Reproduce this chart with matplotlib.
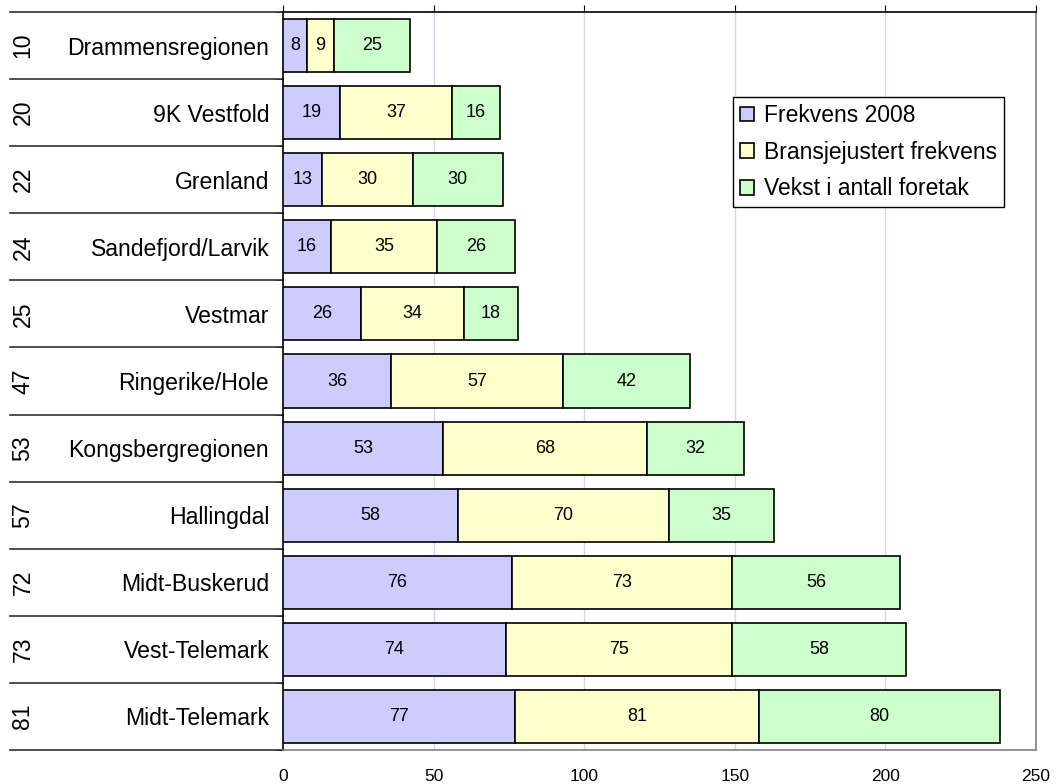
import matplotlib
matplotlib.use("Agg")
import matplotlib.pyplot as plt
from matplotlib.patches import Patch
import numpy as np

plt.rcParams['font.family'] = ['Liberation Sans', 'DejaVu Sans']

regions = ["Drammensregionen", "9K Vestfold", "Grenland", "Sandefjord/Larvik", "Vestmar",
           "Ringerike/Hole", "Kongsbergregionen", "Hallingdal", "Midt-Buskerud",
           "Vest-Telemark", "Midt-Telemark"]
ranks = ["10", "20", "22", "24", "25", "47", "53", "57", "72", "73", "81"]
frekvens_2008 = [8, 19, 13, 16, 26, 36, 53, 58, 76, 74, 77]
bransjejustert = [9, 37, 30, 35, 34, 57, 68, 70, 73, 75, 81]
vekst = [25, 16, 30, 26, 18, 42, 32, 35, 56, 58, 80]
series_names = ["Frekvens 2008", "Bransjejustert frekvens", "Vekst i antall foretak"]
colors = ["#CCCCFF", "#FFFFCC", "#CCFFCC"]
xticks = [0, 50, 100, 150, 200, 250]

fig = plt.figure(figsize=(10.56, 7.84), dpi=100)
W, H = 1056, 784
L, R, T, B = 283, 1036, 12, 750
ax = fig.add_axes([L / W, 1 - B / H, (R - L) / W, (B - T) / H])

y = np.arange(len(regions))
series = [frekvens_2008, bransjejustert, vekst]
left = np.zeros(len(regions))
for vals, c in zip(series, colors):
    vals = np.array(vals, dtype=float)
    ax.barh(y, vals, left=left, height=0.79, color=c, edgecolor="black",
            linewidth=1.2, zorder=3)
    for yi, l, v in zip(y, left, vals):
        ax.text(l + v / 2, yi, f"{int(v)}", ha="center", va="center", fontsize=13, zorder=4)
    left = left + vals

ax.set_xlim(0, 250)
ax.set_ylim(len(regions) - 0.5, -0.5)
ax.set_xticks(xticks)
ax.set_xticklabels([str(t) for t in xticks], fontsize=12.5)
ax.tick_params(axis="x", top=True, bottom=False, labeltop=False, labelbottom=True,
               direction="out", length=5, pad=9, color="black")
for xt in xticks[1:-1]:
    ax.axvline(xt, color="#D4D4FA", linewidth=1, zorder=1)

ax.set_yticks(y)
ax.set_yticklabels(regions, fontsize=16.6)
ax.set_yticks(np.arange(-0.5, len(regions), 1.0), minor=True)
ax.tick_params(axis="y", which="major", length=0, pad=10)
ax.tick_params(axis="y", which="minor", length=5, direction="out", color="black")

ax.spines["top"].set_color("black")
ax.spines["left"].set_color("black")
ax.spines["right"].set_color("#808080")
ax.spines["bottom"].set_color("#808080")
for s in ax.spines.values():
    s.set_linewidth(1.2)

# Left table lines and rank numbers
x0 = (10 - L) / (R - L)
trans = ax.get_yaxis_transform()
for b in np.arange(-0.5, len(regions), 1.0):
    ax.plot([x0, 0], [b, b], transform=trans, color="#303030", linewidth=1.2, clip_on=False)
xr = (23 - L) / (R - L)
for yi, r in zip(y, ranks):
    ax.text(xr, yi, r, transform=trans, rotation=90, ha="center", va="center", fontsize=16.6)

handles = [Patch(facecolor=c, edgecolor="black", linewidth=1.2) for c in colors]
leg = fig.legend(handles, series_names, loc="upper left",
                 bbox_to_anchor=(733 / W, 1 - 97 / H), borderaxespad=0, fontsize=16.5,
                 handlelength=0.6, handleheight=0.6, handletextpad=0.45,
                 labelspacing=0.6, borderpad=0.3, fancybox=False, framealpha=1)
leg.get_frame().set_edgecolor("black")
leg.get_frame().set_linewidth(1.0)

fig.savefig("out.png", dpi=100)
